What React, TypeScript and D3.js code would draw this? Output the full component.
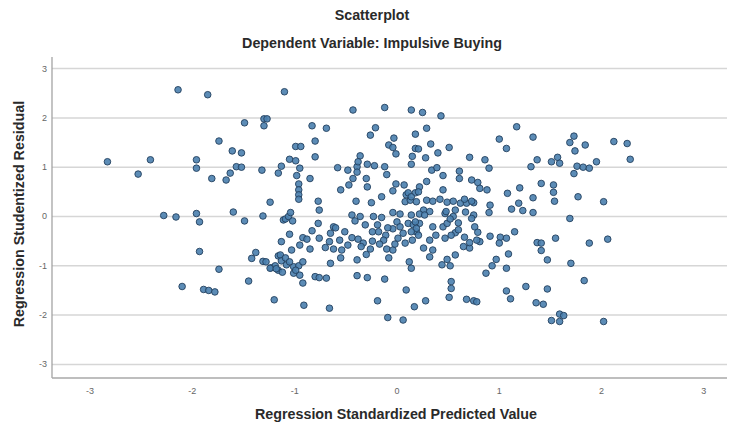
import React from "react";
import * as d3 from "d3";

const chartTitle = "Scatterplot";
const chartSubtitle = "Dependent Variable: Impulsive Buying";
const xAxisTitle = "Regression Standardized Predicted Value";
const yAxisTitle = "Regression Studentized Residual";
const xTicks = [-3, -2, -1, 0, 1, 2, 3];
const yTicks = [-3, -2, -1, 0, 1, 2, 3];

// predicted (standardized) values
const predicted = [
  -2.83, -2.53, -2.41, -2.28, -2.16, -2.14, -2.10, -1.96, -1.96, -1.96,
  -1.93, -1.93, -1.89, -1.85, -1.84, -1.81, -1.78, -1.74, -1.74, -1.67,
  -1.63, -1.61, -1.60, -1.57, -1.52, -1.52, -1.49, -1.49, -1.45, -1.42,
  -1.38, -1.31, -1.32, -1.31, -1.30, -1.27, -1.30, -1.24, -1.23, -1.19,
  -1.16, -1.16, -1.20, -1.16, -1.13, -1.11, -1.13, -1.10, -1.09, -1.06,
  -1.05, -1.04, -1.02, -1.05, -1.03, -0.99, -0.94, -0.99, -0.98, -0.96,
  -0.96, -0.96, -0.96, -0.95, -0.95, -0.92, -0.92, -0.91, -1.14, -1.13,
  -1.24, -1.18, -1.08, -1.01, -0.96, -0.92, -1.01, -0.95, -1.09, -1.05,
  -0.99, -1.12, -1.28, -0.85, -0.83, -0.80, -0.80, -0.77, -0.76, -0.77,
  -0.83, -0.88, -0.85, -0.80, -0.76, -0.69, -0.76, -0.69, -0.65, -0.66,
  -0.62, -0.70, -0.62, -0.54, -0.65, -0.55, -0.66, -0.58, -0.48, -0.55,
  -0.47, -0.43, -0.43, -0.44, -0.41, -0.44, -0.38, -0.39, -0.39, -0.40,
  -0.39, -0.39, -0.36, -0.38, -0.36, -0.33, -0.35, -0.30, -0.29, -0.29,
  -0.22, -0.26, -0.21, -0.30, -0.26, -0.29, -0.25, -0.23, -0.19, -0.15,
  -0.15, -0.12, -0.12, -0.10, -0.18, -0.11, -0.13, -0.17, -0.10, -0.08,
  -0.12, -0.19, -0.09, -0.04, -0.03, -0.08, -0.04, -0.01, -0.04, -0.01,
  0.07, -0.04, 0.00, 0.03, 0.06, 0.11, 0.16, 0.19, 0.06, 0.08,
  0.09, 0.13, 0.11, 0.18, 0.14, 0.14, 0.18, 0.18, 0.15, 0.14,
  0.12, 0.14, 0.09, 0.17, 0.22, 0.21, 0.25, -0.04, 0.01, 0.08,
  0.15, 0.03, -0.09, 0.29, 0.33, 0.28, 0.40, 0.43, 0.51, 0.34,
  0.39, 0.45, 0.29, 0.45, 0.22, 0.26, 0.32, 0.29, 0.35, 0.42,
  0.49, 0.55, 0.62, 0.47, 0.55, 0.35, 0.45, 0.49, 0.26, 0.35,
  0.32, 0.44, 0.49, 0.52, 0.57, 0.53, 0.53, 0.51, 0.28, 0.61,
  0.61, 0.71, 0.73, 0.79, 0.81, 0.88, 0.68, 0.75, 0.75, 0.73,
  0.76, 0.79, 0.81, 0.65, 0.71, 0.68, 0.75, 0.78, 0.38, 0.47,
  0.57, 0.66, 0.78, 0.71, 0.60, 0.67, 0.22, 0.32, 0.86, 0.90,
  0.91, 0.90, 0.91, 1.01, 1.07, 1.00, 1.00, 1.07, 1.08, 1.17,
  1.20, 1.19, 1.33, 1.12, 1.23, 1.33, 1.15, 1.09, 0.97, 0.93,
  0.87, 1.07, 1.07, 1.11, 1.26, 1.33, 1.37, 1.31, 1.41, 1.53,
  1.53, 1.54, 1.51, 1.57, 1.59, 1.37, 1.41, 1.41, 1.55, 1.47,
  1.47, 1.36, 1.43, 1.59, 1.63, 1.51, 1.59, 1.69, 1.70, 1.73,
  1.69, 1.74, 1.84, 1.76, 1.82, 1.88, 1.95, 1.73, 1.77, 1.88,
  2.06, 1.83, 2.02, 2.02, 2.12, 2.25, 2.28, 0.21, 0.14, 0.19,
  0.66, 0.73, 0.27, 0.18, 0.19, 0.14, 0.21, 0.53, 0.60, 0.48,
  0.57, 0.52, -0.51, -0.48, -0.24, -0.02, -0.24, -0.31, -0.56, -0.60,
];

// studentized residuals
const residual = [
  1.11, 0.86, 1.15, 0.02, -0.01, 2.57, -1.42, 1.15, 0.98, 0.06,
  -0.11, -0.71, -1.48, 2.47, -1.50, 0.77, -1.53, 1.53, -1.07, 0.74,
  0.88, 1.33, 0.09, 1.01, 1.00, 1.29, 1.90, -0.09, -1.31, -0.85,
  -0.73, -0.91, 0.94, 0.01, 1.98, 1.98, 1.84, 0.29, -1.04, -1.00,
  -1.09, -0.80, -1.69, 0.88, 1.02, -0.07, -0.51, 2.53, -0.05, 0.00,
  1.16, 0.08, -0.09, -0.36, -0.68, 1.42, 1.42, 1.13, 0.83, 0.66,
  0.54, 0.44, 0.35, 0.98, -0.58, -0.43, -1.35, -1.80, -0.78, -0.90,
  -1.05, -1.06, -0.98, -1.02, -1.00, -0.92, -1.15, -1.19, -0.84, -0.92,
  -1.09, -1.13, -0.92, 0.77, 1.84, 1.53, 1.21, 0.31, 0.13, -0.14,
  -0.29, -0.46, -0.66, -1.22, -1.24, -1.25, -0.44, 1.79, -0.34, -0.51,
  -0.21, -0.63, -0.66, -0.68, -0.95, -0.84, -1.86, 0.99, 0.94, 0.54,
  0.64, 0.77, 2.16, 0.03, -0.09, -0.43, -0.46, -0.88, -1.20, 0.31,
  1.01, 0.90, 1.23, 1.11, 0.00, -0.54, -0.61, 0.77, 0.60, 1.06,
  1.03, 1.65, 1.80, -0.77, -0.66, -1.24, 0.28, 0.00, -0.17, -0.02,
  0.40, 2.21, 1.01, 0.85, -0.31, -0.38, -0.48, -0.56, -0.66, -0.84,
  -1.27, -1.71, -2.05, -0.68, 1.59, 1.45, 1.40, 1.27, 0.52, 0.66,
  0.64, 0.08, -0.11, -0.21, -0.34, -0.14, -0.17, -0.31, -2.10, 0.30,
  0.44, 0.33, 0.48, 0.48, 0.03, 2.16, 1.67, 1.38, 1.22, 1.06,
  -0.92, -1.05, -1.49, -1.83, 0.60, 1.37, 2.11, -0.25, -0.44, -0.54,
  -0.48, 0.05, -0.23, 1.79, 1.47, 1.19, 1.29, 2.04, 1.40, 0.94,
  0.99, 0.83, 0.71, 0.54, -0.14, 0.13, 0.10, 0.33, 0.31, 0.35,
  0.29, 0.31, 0.27, 0.06, 0.00, -0.21, -0.21, -0.14, -0.64, -0.68,
  -0.82, -0.98, -0.87, -1.00, -0.78, -1.32, -1.46, -1.64, -1.71, 0.92,
  0.77, 1.20, 0.74, 0.69, 0.57, 0.54, 0.27, 0.28, 0.03, -0.04,
  -0.21, -0.32, -0.51, -0.61, -0.64, -1.68, -1.71, -1.73, -0.38, -0.44,
  -0.33, -0.42, -0.48, -0.53, -0.13, 0.09, 0.05, -0.48, 1.15, 0.98,
  0.23, 0.08, -0.40, -0.42, -0.44, -0.54, 1.57, 1.38, 0.47, 1.82,
  0.58, 0.27, 0.38, 0.15, 0.12, 0.08, -0.31, -0.76, -0.87, -1.00,
  -1.15, -1.05, -1.51, -1.67, -1.42, 1.61, 1.15, 1.01, 0.67, 0.64,
  0.49, 0.31, 1.11, 1.20, 1.08, -0.53, -0.54, -0.69, -0.44, -0.88,
  -1.47, -1.75, -1.78, -1.98, -2.01, -2.11, -2.13, -0.04, -0.95, 1.63,
  1.50, 1.33, 1.45, 1.02, 1.00, 0.98, 1.11, 0.87, 0.40, -0.54,
  -0.46, -1.30, -2.13, 0.30, 1.52, 1.48, 1.16, 0.50, 0.40, 0.30,
  0.35, 0.31, 0.03, -0.11, -0.24, -0.31, -0.38, -0.38, -0.27, 0.10,
  0.13, -0.05, -0.31, -0.58, -0.31, -0.56, -0.50, -0.17, -0.48, -0.23,
];

const W = 733;
const H = 427;
const plot = { left: 52, right: 727, top: 57, bottom: 378 };
const font = "'Liberation Sans', Arial, sans-serif";
const titleSize = 14.3;

export default function App() {
  const x = d3.scaleLinear().domain([-3.372, 3.226]).range([plot.left, plot.right]);
  const y = d3.scaleLinear().domain([-3.276, 3.235]).range([plot.bottom, plot.top]);
  const n = Math.min(predicted.length, residual.length);
  const pts = d3.range(n).map((i) => ({ px: predicted[i], py: residual[i] }));
  const titleX = 372;

  return (
    <div style={{ position: "fixed", left: 0, top: 0, background: "#fff" }}>
      <svg width={W} height={H} viewBox={`0 0 ${W} ${H}`} style={{ display: "block", fontFamily: font }}>
        <rect x={0} y={0} width={W} height={H} fill="#fff" />
        <text x={titleX} y={15} textAnchor="middle" dominantBaseline="central" fontSize={titleSize} fontWeight="bold" fill="#2a2a2a">
          {chartTitle}
        </text>
        <text x={titleX} y={42.5} textAnchor="middle" dominantBaseline="central" fontSize={titleSize} fontWeight="bold" fill="#2a2a2a">
          {chartSubtitle}
        </text>

        {yTicks.map((t) => (
          <line key={"g" + t} x1={plot.left} x2={plot.right} y1={y(t)} y2={y(t)} stroke="#d6d6d6" strokeWidth={1.5} />
        ))}

        <line x1={plot.left} x2={plot.left} y1={plot.top} y2={plot.bottom} stroke="#9c9c9c" strokeWidth={1.2} />
        <line x1={plot.left} x2={plot.right} y1={plot.bottom} y2={plot.bottom} stroke="#a8a8a8" strokeWidth={1.5} />

        {yTicks.map((t) => (
          <text key={"yl" + t} x={47} y={y(t)} textAnchor="end" dominantBaseline="central" fontSize={9} fill="#666">
            {t}
          </text>
        ))}
        {xTicks.map((t) => (
          <text key={"xl" + t} x={x(t)} y={391} textAnchor="middle" dominantBaseline="central" fontSize={9} fill="#666">
            {t}
          </text>
        ))}

        <text x={396} y={414} textAnchor="middle" dominantBaseline="central" fontSize={titleSize} fontWeight="bold" fill="#2a2a2a">
          {xAxisTitle}
        </text>
        <text
          transform="translate(19, 214) rotate(-90)"
          textAnchor="middle"
          dominantBaseline="central"
          fontSize={titleSize}
          fontWeight="bold"
          fill="#2a2a2a"
        >
          {yAxisTitle}
        </text>

        <g>
          {pts.map((p, i) => (
            <circle
              key={i}
              cx={x(p.px)}
              cy={y(p.py)}
              r={3.3}
              fill="#4a7fae"
              stroke="#22405e"
              strokeWidth={0.9}
              fillOpacity={0.9}
            />
          ))}
        </g>
      </svg>
    </div>
  );
}
